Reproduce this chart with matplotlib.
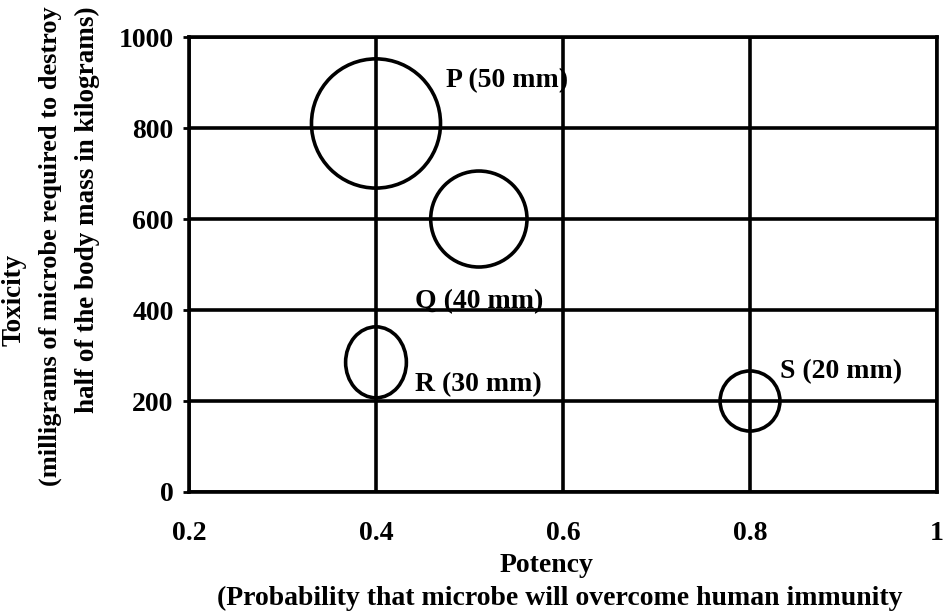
import matplotlib.pyplot as plt
from matplotlib.patches import Ellipse

plt.rcParams['font.family'] = ['Liberation Serif', 'DejaVu Serif']
plt.rcParams['font.weight'] = 'bold'

# microbes: potency (x), toxicity (y), drawn bubble diameters in data units
names = ['P (50 mm)', 'Q (40 mm)', 'R (30 mm)', 'S (20 mm)']
potency = [0.40, 0.51, 0.40, 0.80]
toxicity = [810, 600, 285, 200]
bubble_w = [0.138, 0.103, 0.065, 0.064]
bubble_h = [284, 211, 156, 132]

xticks = [0.2, 0.4, 0.6, 0.8, 1]
xtick_labels = ['0.2', '0.4', '0.6', '0.8', '1']
yticks = [0, 200, 400, 600, 800, 1000]

# label anchor points (data coords)
label_x = [0.540, 0.510, 0.509, 0.897]
label_y = [905, 418, 235, 264]

fs = 20
lw = 2.6

fig = plt.figure(figsize=(9.44, 6.14), dpi=100)
ax = fig.add_axes([0.2002, 0.1987, 0.7924, 0.741])

ax.set_xlim(0.2, 1)
ax.set_ylim(0, 1000)
ax.set_xticks(xticks)
ax.set_xticklabels(xtick_labels)
ax.set_yticks(yticks)
ax.grid(True, color='black', lw=lw)
for s in ax.spines.values():
    s.set_linewidth(lw)
ax.tick_params(axis='x', length=0, pad=21, labelsize=fs)
ax.tick_params(axis='y', length=4, width=2, pad=7, labelsize=fs)

for i in range(len(names)):
    e = Ellipse((potency[i], toxicity[i]), bubble_w[i], bubble_h[i],
                fill=False, ec='black', lw=lw, zorder=3)
    ax.add_patch(e)
    ax.text(label_x[i], label_y[i], names[i], ha='center', va='center',
            fontsize=fs, fontweight='bold', zorder=4)

# axis titles
fig.text(14/944, 1 - 300/614, 'Toxicity', rotation=90, ha='center', va='center', fontsize=19.5)
fig.text(50/944, 1 - 246/614, '(milligrams of microbe required to destroy', rotation=90,
         ha='center', va='center', fontsize=19)
fig.text(87/944, 1 - 210/614, 'half of the body mass in kilograms)', rotation=90,
         ha='center', va='center', fontsize=19.5)
fig.text(547/944, 1 - 565/614, 'Potency', ha='center', va='center', fontsize=fs)
fig.text(560/944, 1 - 598/614, '(Probability that microbe will overcome human immunity',
         ha='center', va='center', fontsize=fs)

fig.savefig('out.png', dpi=100)
